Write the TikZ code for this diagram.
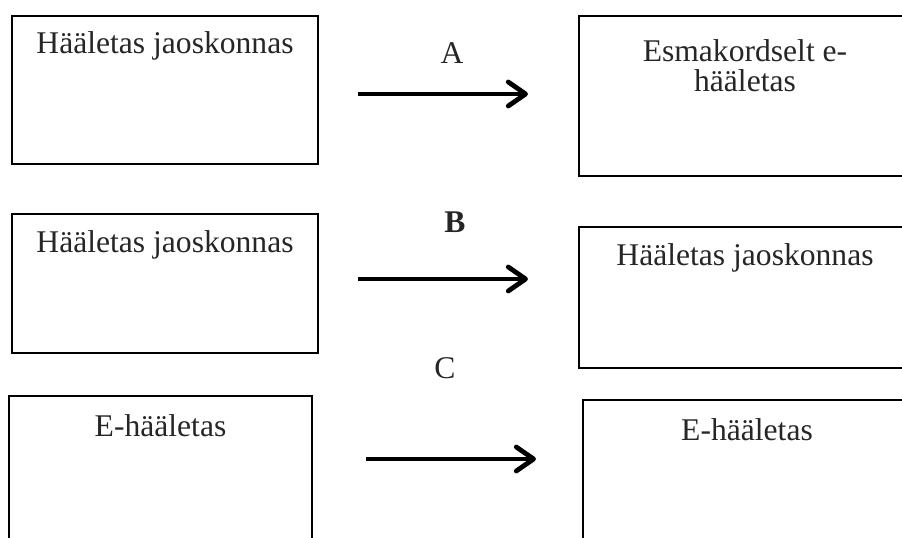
\documentclass[tikz,border=0pt]{standalone}
\usepackage{fontspec}
\setmainfont{Liberation Serif}
\usetikzlibrary{arrows.meta}

\begin{document}
\begin{tikzpicture}[x=0.75pt, y=-0.75pt,
  box/.style={draw, line width=1.2pt, inner sep=0pt},
  txt/.style={anchor=base, align=center, inner sep=0pt, text=black!85, font=\fontsize{23.7}{22.5}\selectfont},
  arr/.style={line width=3.6pt, -{Straight Barb[length=13pt,width=18pt,round]}}]
\useasboundingbox (0,0) rectangle (902,538);

% row A
\node[box, minimum width=229.5pt, minimum height=111pt] (boxAl) at (165,90) {};
\node[txt] (txtAl) at ([yshift=-29pt]boxAl.north) {Hääletas jaoskonnas};
\node[box, minimum width=249pt, minimum height=120pt] (boxAr) at (745,96) {};
\node[txt] (txtAr) at ([yshift=-57.5pt]boxAr.north) {Esmakordselt e-\\hääletas};
\coordinate (arrAs) at (358,94);
\coordinate (arrAe) at (528,94);
\draw[arr] (arrAs) -- (arrAe);
\node[txt, anchor=center] (lblA) at (452,53) {A};

% row B
\node[box, minimum width=229.5pt, minimum height=104.25pt] (boxBl) at (165,283.5) {};
\node[txt] (txtBl) at ([yshift=-29.25pt]boxBl.north) {Hääletas jaoskonnas};
\node[box, minimum width=249pt, minimum height=105.75pt] (boxBr) at (745,297.5) {};
\node[txt] (txtBr) at ([yshift=-29.25pt]boxBr.north) {Hääletas jaoskonnas};
\coordinate (arrBs) at (358,279);
\coordinate (arrBe) at (528,279);
\draw[arr] (arrBs) -- (arrBe);
\node[txt, anchor=center] (lblB) at (455,222) {\textbf{B}};

% row C
\node[box, minimum width=227.25pt, minimum height=130.5pt] (boxCl) at (160.5,483) {};
\node[txt] (txtCl) at ([yshift=-30.75pt]boxCl.north) {E-hääletas};
\node[box, minimum width=246pt, minimum height=127.5pt] (boxCr) at (747,485) {};
\node[txt] (txtCr) at ([yshift=-30.75pt]boxCr.north) {E-hääletas};
\coordinate (arrCs) at (366,459);
\coordinate (arrCe) at (536,459);
\draw[arr] (arrCs) -- (arrCe);
\node[txt, anchor=center] (lblC) at (445,368) {C};

\end{tikzpicture}
\end{document}
